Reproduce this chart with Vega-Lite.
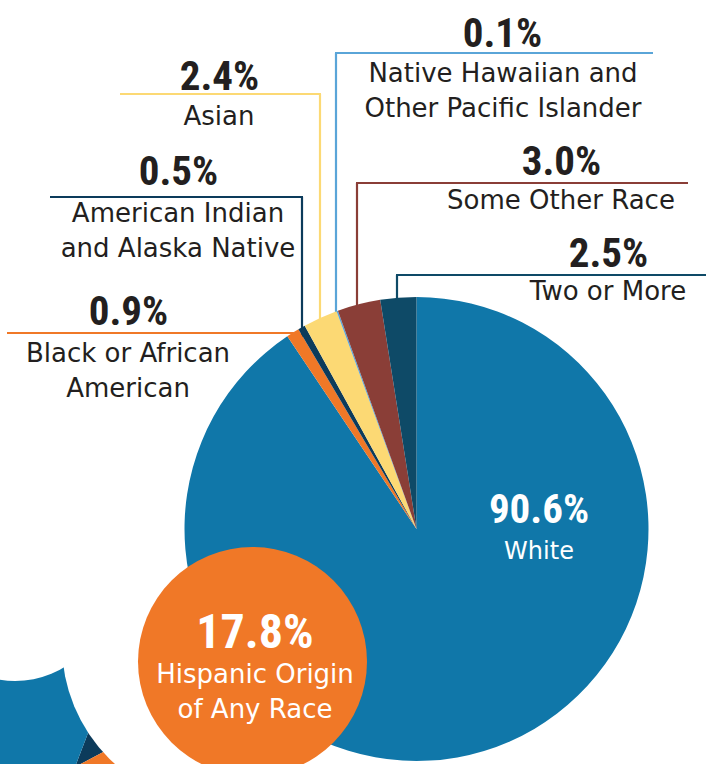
{
  "$schema": "https://vega.github.io/schema/vega-lite/v6.json",
  "width": 706,
  "height": 764,
  "padding": 0,
  "autosize": {"type": "none"},
  "background": "white",
  "config": {"view": {"stroke": null}},
  "datasets": {
    "races": [
      {"race": "White", "pct": 90.6, "ord": 1},
      {"race": "Black or African American", "pct": 0.9, "ord": 2},
      {"race": "American Indian and Alaska Native", "pct": 0.5, "ord": 3},
      {"race": "Asian", "pct": 2.4, "ord": 4},
      {"race": "Native Hawaiian and Other Pacific Islander", "pct": 0.1, "ord": 5},
      {"race": "Some Other Race", "pct": 3.0, "ord": 6},
      {"race": "Two or More", "pct": 2.5, "ord": 7}
    ],
    "hispanicPie": [
      {"race": "American Indian and Alaska Native", "share": 11.4, "ord": 1},
      {"race": "Black or African American", "share": 30.0, "ord": 2},
      {"race": "White", "share": 58.6, "ord": 3}
    ],
    "whiteDiscs": [
      {"disc": "left", "x": 15, "y": 586},
      {"disc": "ring", "x": 222, "y": 645}
    ],
    "leaders": [
      {"race": "Asian", "x": 120, "y": 94, "x2": 321, "y2": 94},
      {"race": "Asian", "x": 320, "y": 94, "x2": 320, "y2": 330},
      {"race": "American Indian and Alaska Native", "x": 50, "y": 197, "x2": 303, "y2": 197},
      {"race": "American Indian and Alaska Native", "x": 302, "y": 197, "x2": 302, "y2": 340},
      {"race": "Black or African American", "x": 7, "y": 333, "x2": 300, "y2": 333},
      {"race": "Native Hawaiian and Other Pacific Islander", "x": 335, "y": 53, "x2": 653, "y2": 53},
      {"race": "Native Hawaiian and Other Pacific Islander", "x": 336, "y": 53, "x2": 336, "y2": 330},
      {"race": "Some Other Race", "x": 356, "y": 183, "x2": 688, "y2": 183},
      {"race": "Some Other Race", "x": 357, "y": 183, "x2": 357, "y2": 320},
      {"race": "Two or More", "x": 396, "y": 275, "x2": 706, "y2": 275},
      {"race": "Two or More", "x": 397, "y": 275, "x2": 397, "y2": 310}
    ],
    "pctLabels": [
      {"text": "0.1%", "x": 502.5, "y": 47},
      {"text": "2.4%", "x": 219.5, "y": 90},
      {"text": "3.0%", "x": 561.5, "y": 175},
      {"text": "0.5%", "x": 178.5, "y": 185},
      {"text": "2.5%", "x": 608.5, "y": 267},
      {"text": "0.9%", "x": 128.5, "y": 325}
    ],
    "nameLabels": [
      {"text": "Native Hawaiian and\nOther Pacific Islander", "x": 503, "y": 82},
      {"text": "Asian", "x": 219, "y": 125},
      {"text": "Some Other Race", "x": 561, "y": 209},
      {"text": "American Indian\nand Alaska Native", "x": 178, "y": 222},
      {"text": "Two or More", "x": 608, "y": 300},
      {"text": "Black or African\nAmerican", "x": 128, "y": 362}
    ],
    "whitePct": [
      {"text": "90.6%", "x": 539, "y": 523}
    ],
    "hispanicPct": [
      {"text": "17.8%", "x": 255, "y": 648}
    ],
    "whiteName": [
      {"text": "White", "x": 539, "y": 559}
    ],
    "hispanicName": [
      {"text": "Hispanic Origin\nof Any Race", "x": 255, "y": 683}
    ],
    "hispanicDisc": [
      {"disc": "hispanic", "x": 252.5, "y": 661.5}
    ]
  },
  "resolve": {"scale": {"theta": "independent"}},
  "layer": [
    {
      "data": {"name": "hispanicPie"},
      "mark": {"type": "arc", "outerRadius": 200},
      "encoding": {
        "x": {"datum": 75, "type": "quantitative", "scale": {"domain": [0, 706], "nice": false, "zero": false}, "axis": null},
        "y": {"datum": 767, "type": "quantitative", "scale": {"domain": [0, 764], "nice": false, "zero": false, "reverse": true}, "axis": null},
        "theta": {"field": "share", "type": "quantitative", "stack": true, "scale": {"range": [0.3665, 6.6497]}},
        "order": {"field": "ord"},
        "color": {
          "field": "race", "type": "nominal", "legend": null,
          "scale": {
            "domain": ["White", "Black or African American", "American Indian and Alaska Native", "Asian", "Native Hawaiian and Other Pacific Islander", "Some Other Race", "Two or More"],
            "range": ["#1077a9", "#f07827", "#0c3b5b", "#fcd974", "#5aa5d8", "#8a3e37", "#0e4a67"]
          }
        }
      }
    },
    {
      "data": {"name": "whiteDiscs"},
      "transform": [{"filter": "datum.disc === 'left'"}],
      "mark": {"type": "point", "shape": "circle", "filled": true, "color": "white", "opacity": 1, "size": 36100},
      "encoding": {
        "x": {"field": "x", "type": "quantitative"},
        "y": {"field": "y", "type": "quantitative"}
      }
    },
    {
      "data": {"name": "whiteDiscs"},
      "transform": [{"filter": "datum.disc === 'ring'"}],
      "mark": {"type": "point", "shape": "circle", "filled": true, "color": "white", "opacity": 1, "size": 102400},
      "encoding": {
        "x": {"field": "x", "type": "quantitative"},
        "y": {"field": "y", "type": "quantitative"}
      }
    },
    {
      "data": {"name": "leaders"},
      "mark": {"type": "rule", "strokeWidth": 2.2},
      "encoding": {
        "x": {"field": "x", "type": "quantitative"},
        "y": {"field": "y", "type": "quantitative"},
        "x2": {"field": "x2"},
        "y2": {"field": "y2"},
        "color": {"field": "race", "type": "nominal", "legend": null}
      }
    },
    {
      "data": {"name": "races"},
      "mark": {"type": "arc", "outerRadius": 232},
      "encoding": {
        "x": {"datum": 416.5, "type": "quantitative"},
        "y": {"datum": 529, "type": "quantitative"},
        "theta": {"field": "pct", "type": "quantitative", "stack": true},
        "order": {"field": "ord"},
        "color": {"field": "race", "type": "nominal", "legend": null}
      }
    },
    {
      "data": {"name": "hispanicDisc"},
      "mark": {"type": "point", "shape": "circle", "filled": true, "color": "#f07827", "opacity": 1, "size": 52441},
      "encoding": {
        "x": {"field": "x", "type": "quantitative"},
        "y": {"field": "y", "type": "quantitative"}
      }
    },
    {
      "data": {"name": "pctLabels"},
      "mark": {"type": "text", "font": "Noto Sans ExtraCondensed, Roboto Condensed, Noto Sans Condensed, Liberation Sans Narrow, DejaVu Sans Condensed, sans-serif", "fontWeight": "bold", "fontSize": 41, "align": "center", "baseline": "alphabetic", "color": "#231f20"},
      "encoding": {
        "x": {"field": "x", "type": "quantitative"},
        "y": {"field": "y", "type": "quantitative"},
        "text": {"field": "text"}
      }
    },
    {
      "data": {"name": "nameLabels"},
      "mark": {"type": "text", "font": "DejaVu Sans", "fontSize": 26, "align": "center", "baseline": "alphabetic", "lineBreak": "\n", "lineHeight": 35, "color": "#231f20"},
      "encoding": {
        "x": {"field": "x", "type": "quantitative"},
        "y": {"field": "y", "type": "quantitative"},
        "text": {"field": "text"}
      }
    },
    {
      "data": {"name": "whitePct"},
      "mark": {"type": "text", "font": "Noto Sans ExtraCondensed, Roboto Condensed, Noto Sans Condensed, Liberation Sans Narrow, DejaVu Sans Condensed, sans-serif", "fontWeight": "bold", "fontSize": 41, "align": "center", "baseline": "alphabetic", "color": "white"},
      "encoding": {
        "x": {"field": "x", "type": "quantitative"},
        "y": {"field": "y", "type": "quantitative"},
        "text": {"field": "text"}
      }
    },
    {
      "data": {"name": "hispanicPct"},
      "mark": {"type": "text", "font": "Noto Sans ExtraCondensed, Roboto Condensed, Noto Sans Condensed, Liberation Sans Narrow, DejaVu Sans Condensed, sans-serif", "fontWeight": "bold", "fontSize": 48, "align": "center", "baseline": "alphabetic", "color": "white"},
      "encoding": {
        "x": {"field": "x", "type": "quantitative"},
        "y": {"field": "y", "type": "quantitative"},
        "text": {"field": "text"}
      }
    },
    {
      "data": {"name": "whiteName"},
      "mark": {"type": "text", "font": "DejaVu Sans", "fontSize": 24, "align": "center", "baseline": "alphabetic", "color": "white"},
      "encoding": {
        "x": {"field": "x", "type": "quantitative"},
        "y": {"field": "y", "type": "quantitative"},
        "text": {"field": "text"}
      }
    },
    {
      "data": {"name": "hispanicName"},
      "mark": {"type": "text", "font": "DejaVu Sans", "fontSize": 26, "align": "center", "baseline": "alphabetic", "lineBreak": "\n", "lineHeight": 35, "color": "white"},
      "encoding": {
        "x": {"field": "x", "type": "quantitative"},
        "y": {"field": "y", "type": "quantitative"},
        "text": {"field": "text"}
      }
    }
  ]
}
